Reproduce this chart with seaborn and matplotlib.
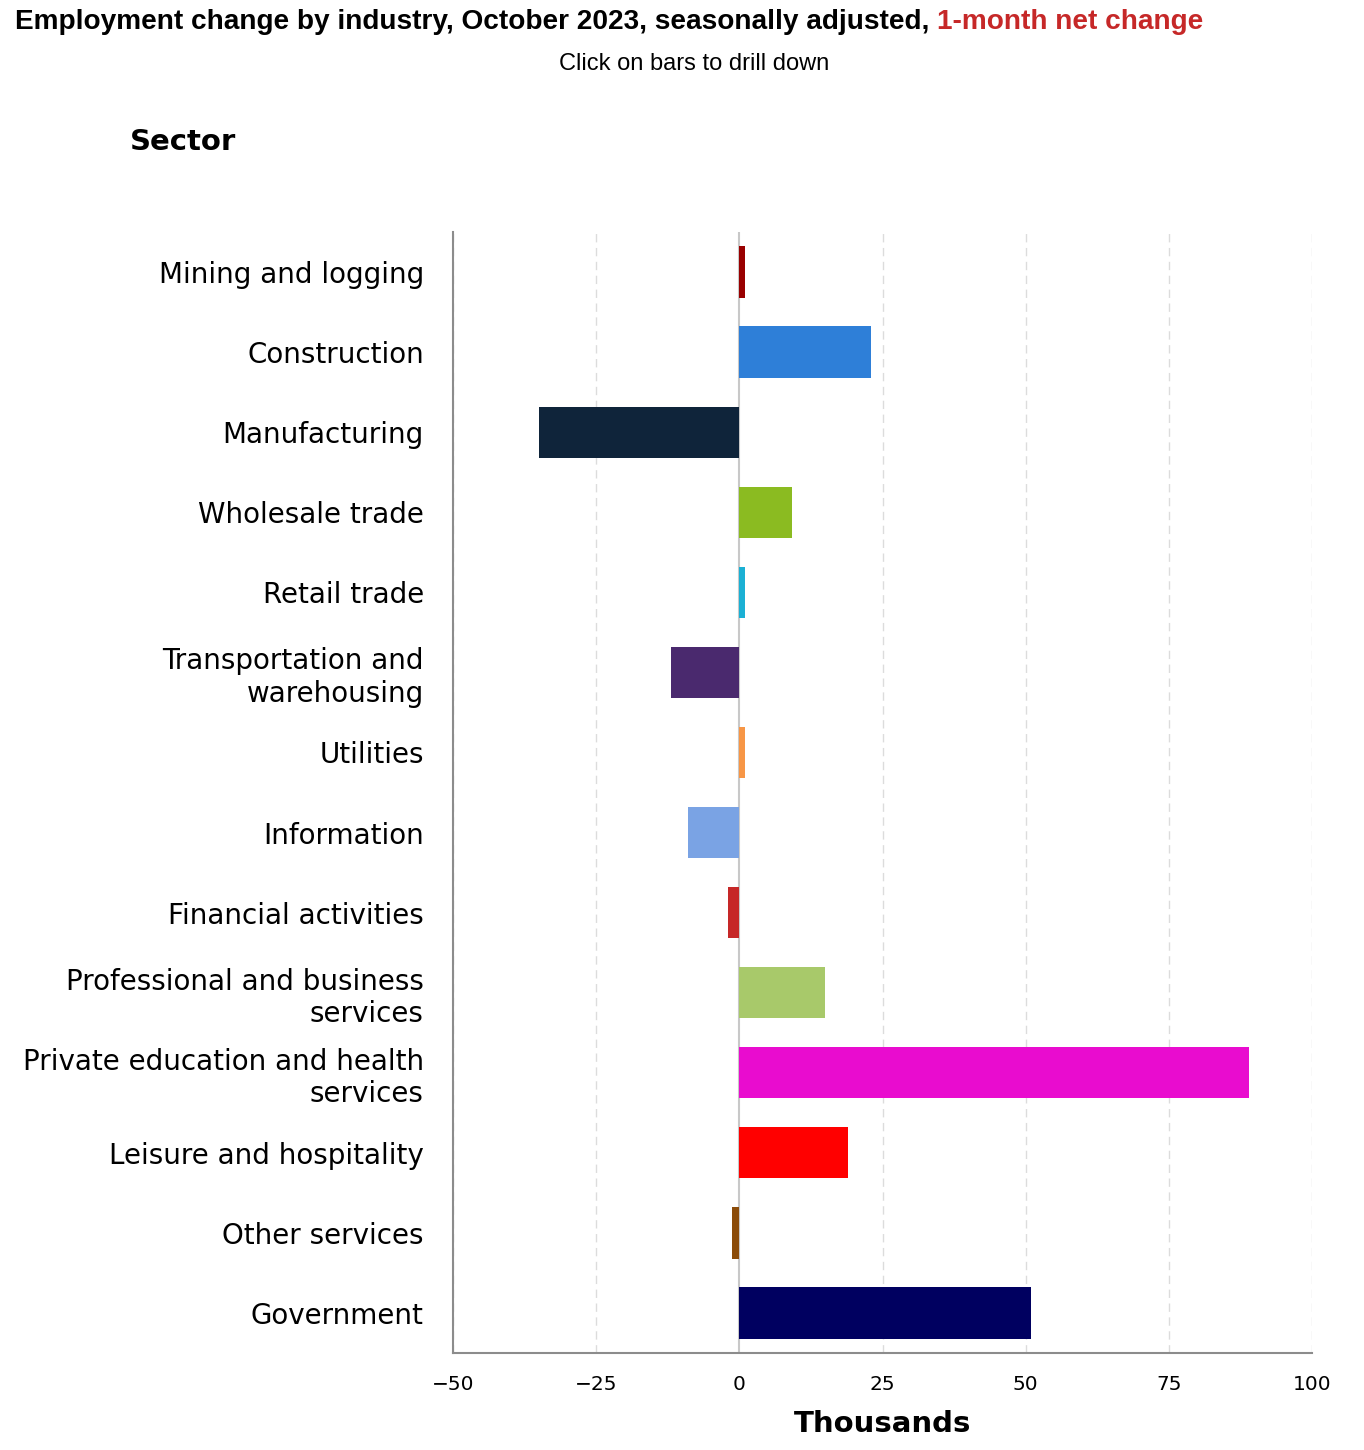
import pandas as pd
import numpy as np
import matplotlib.pyplot as plt
import seaborn as sns

sectors = ['Mining and logging', 'Construction', 'Manufacturing', 'Wholesale trade',
           'Retail trade', 'Transportation and\nwarehousing', 'Utilities', 'Information',
           'Financial activities', 'Professional and business\nservices',
           'Private education and health\nservices', 'Leisure and hospitality',
           'Other services', 'Government']
change = [1.0, 23.0, -35.0, 9.2, 1.0, -12.0, 1.0, -9.0, -2.0, 15.0, 89.0, 19.0, -1.3, 51.0]
colors = ['#990000', '#2e7fd8', '#0f243a', '#8bbb21', '#1bb0d4', '#4a296e', '#f79646',
          '#7aa3e4', '#c62828', '#a8c96a', '#e90ccf', '#ff0000', '#8b4c0a', '#000060']
xticks = [-50, -25, 0, 25, 50, 75, 100]

df = pd.DataFrame({'sector': sectors, 'change': change})

sns.set_style('white')
plt.rcParams['font.family'] = ['DejaVu Sans']
plt.rcParams['text.color'] = 'black'
plt.rcParams['xtick.color'] = 'black'
plt.rcParams['ytick.color'] = 'black'
plt.rcParams['axes.labelcolor'] = 'black'

fig = plt.figure(figsize=(13.64, 14.5), dpi=100)
ax = fig.add_axes([453 / 1364, 1 - 1353 / 1450, 859 / 1364, 1121 / 1450])

sns.barplot(data=df, x='change', y='sector', hue='sector', palette=colors,
            orient='h', width=0.64, legend=False, ax=ax, saturation=1, linewidth=0)

ax.set_xlim(-50, 100)
ax.set_ylim(13.5, -0.5)
ax.set_xticks(xticks)
ax.set_xticklabels(['\u221250', '\u221225', '0', '25', '50', '75', '100'], fontsize=14.5)
for x in xticks:
    if x == 0:
        ax.axvline(x, color='#c8c8c8', lw=1.5, zorder=0.5)
    else:
        ax.axvline(x, color='#dcdcdc', lw=1, ls=(0, (6, 4)), zorder=0)
ax.tick_params(axis='y', length=0, pad=21, labelsize=20)
ax.tick_params(axis='x', length=0, pad=16)
for lab in ax.get_yticklabels():
    lab.set_ha('right')

for s in ['top', 'right']:
    ax.spines[s].set_visible(False)
for s in ['left', 'bottom']:
    ax.spines[s].set_color('#8c8c8c')
    ax.spines[s].set_linewidth(1.5)

ax.set_ylabel('')
ax.set_xlabel('Thousands', fontsize=21, fontweight='bold', labelpad=11)

fig.text(15 / 1364, 1 - 22 / 1450, 'Employment change by industry, October 2023, seasonally adjusted, ',
         fontsize=20.2, fontweight='bold', family='Liberation Sans', va='center', ha='left')
t = fig.texts[-1]
fig.canvas.draw()
bb = t.get_window_extent()
fig.text(bb.x1 / 1364, 1 - 22 / 1450, '1-month net change', fontsize=20.2, fontweight='bold',
         family='Liberation Sans', color='#c62828', va='center', ha='left')
fig.text(694 / 1364, 1 - 64 / 1450, 'Click on bars to drill down', fontsize=17,
         family='Liberation Sans', va='center', ha='center')
fig.text(130 / 1364, 1 - 142 / 1450, 'Sector', fontsize=21, fontweight='bold',
         va='center', ha='left')

fig.savefig('out.png', dpi=100)
